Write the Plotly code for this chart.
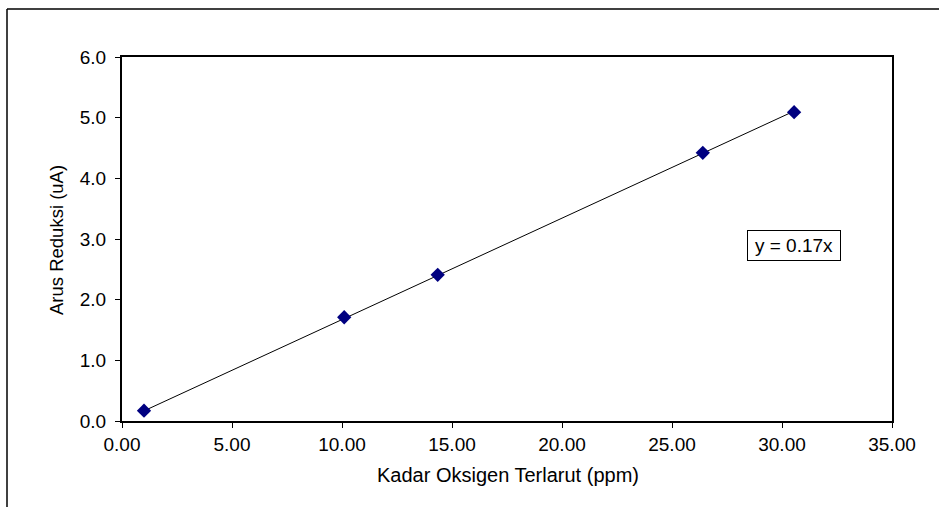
import numpy as np
import plotly.graph_objects as go

# Data
kadar_oksigen = [1.0, 10.1, 14.35, 26.4, 30.55]   # ppm
arus_reduksi = [0.17, 1.71, 2.41, 4.42, 5.09]     # uA

x_title = "Kadar Oksigen Terlarut (ppm)"
y_title = "Arus Reduksi (uA)"
eq_label = "y = 0.17x"

xa = np.array(kadar_oksigen)
ya = np.array(arus_reduksi)
slope = float((xa * ya).sum() / (xa * xa).sum())
trend_x = [xa.min(), xa.max()]
trend_y = [slope * v for v in trend_x]

FONT = "Liberation Sans, Arial, sans-serif"

fig = go.Figure()
fig.add_trace(go.Scatter(x=trend_x, y=trend_y, mode="lines",
                         line=dict(color="black", width=1), showlegend=False,
                         hoverinfo="skip"))
fig.add_trace(go.Scatter(x=kadar_oksigen, y=arus_reduksi, mode="markers",
                         marker=dict(symbol="diamond", size=11, color="#000080",
                                     line=dict(width=0)),
                         showlegend=False))

W, H = 939, 507
L, R, T, B = 122, 47, 57, 86
pw, ph = W - L - R, H - T - B

def px_to_paper_x(px):
    return (px - L) / pw

def px_to_paper_y(py):
    return (H - B - py) / ph

fig.update_layout(
    width=W, height=H,
    margin=dict(l=L, r=R, t=T, b=B, pad=0),
    paper_bgcolor="white", plot_bgcolor="white",
    font=dict(family=FONT, color="black"),
    xaxis=dict(range=[0, 35], dtick=5, tick0=0, tickformat=".2f",
               showgrid=False, zeroline=False,
               showline=True, mirror=True, linecolor="black", linewidth=2,
               ticks="outside", ticklen=5, tickwidth=1, tickcolor="black",
               ticklabelstandoff=0,
               tickfont=dict(family=FONT, size=19, color="black")),
    yaxis=dict(range=[0, 6], dtick=1, tick0=0, tickformat=".1f",
               showgrid=False, zeroline=False,
               showline=True, mirror=True, linecolor="black", linewidth=2,
               ticks="outside", ticklen=5, tickwidth=1, tickcolor="black",
               ticklabelstandoff=5,
               tickfont=dict(family=FONT, size=19, color="black")),
    annotations=[
        dict(text=x_title, xref="paper", yref="paper",
             x=px_to_paper_x(507.5), y=px_to_paper_y(475.5),
             xanchor="center", yanchor="middle", showarrow=False,
             font=dict(family=FONT, size=20, color="black")),
        dict(text=y_title, xref="paper", yref="paper",
             x=px_to_paper_x(56), y=px_to_paper_y(240),
             xanchor="center", yanchor="middle", showarrow=False, textangle=-90,
             font=dict(family=FONT, size=18.5, color="black")),
        dict(text=eq_label, xref="x", yref="y", x=30.55, y=2.90,
             xanchor="center", yanchor="middle", showarrow=False,
             bordercolor="black", borderwidth=1, borderpad=2,
             width=88, height=25, bgcolor="white",
             font=dict(family=FONT, size=19, color="black")),
    ],
    shapes=[
        dict(type="line", xref="paper", yref="paper",
             x0=px_to_paper_x(7), x1=px_to_paper_x(7),
             y0=px_to_paper_y(9), y1=px_to_paper_y(520),
             line=dict(color="black", width=1.5)),
        dict(type="line", xref="paper", yref="paper",
             x0=px_to_paper_x(7), x1=px_to_paper_x(950),
             y0=px_to_paper_y(9), y1=px_to_paper_y(9),
             line=dict(color="black", width=1.5)),
    ],
)

fig.write_html("out.html")
